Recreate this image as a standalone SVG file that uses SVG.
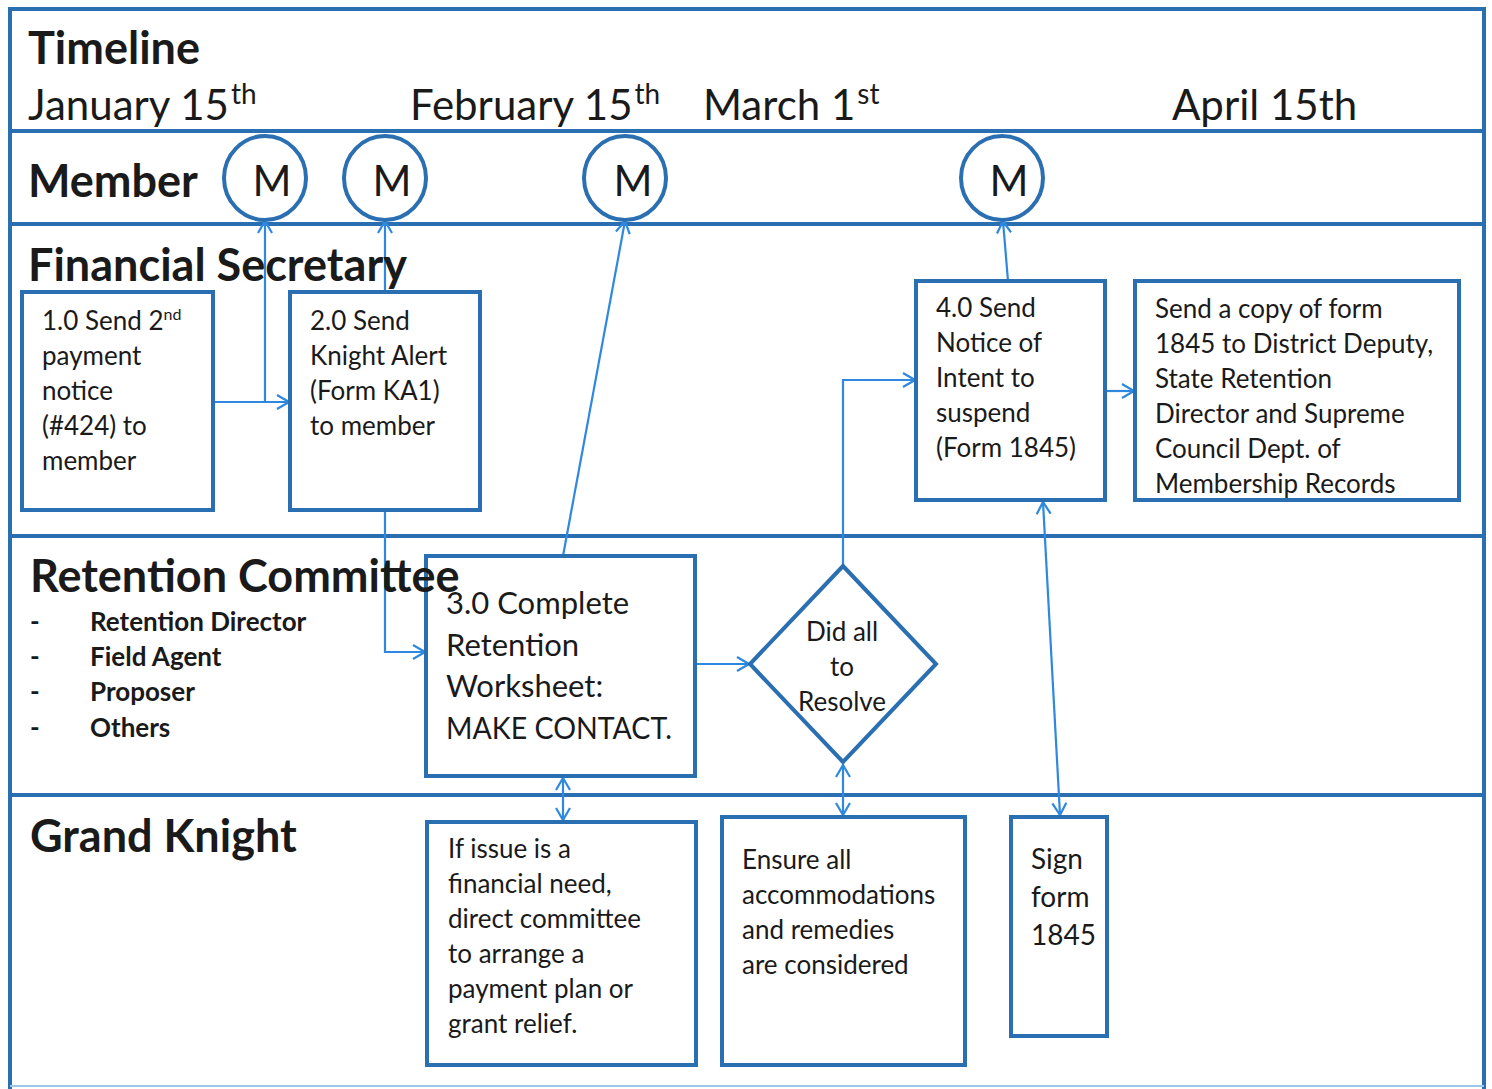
<svg xmlns="http://www.w3.org/2000/svg" width="1492" height="1089" viewBox="0 0 1492 1089">
<style>
text{font-family:Lato,"Open Sans","Liberation Sans",sans-serif;fill:#1a1a1a}
.lane{font-weight:bold;font-size:45px}
.date{font-size:42px}
.t{font-size:26px}
.b{font-size:26px;font-weight:bold}
.box{fill:#fff;stroke:#2b6fb3;stroke-width:4}
.frame{fill:none;stroke:#2b6fb3;stroke-width:4}
.circ{fill:#fff;stroke:#2b6fb3;stroke-width:4}
.c{fill:none;stroke:#2e88e0;stroke-width:2.2}
.m{font-size:42px;text-anchor:middle}
</style>
<defs>
<marker id="ah" viewBox="0 0 14 16" refX="13" refY="8" markerWidth="14" markerHeight="16" markerUnits="userSpaceOnUse" orient="auto">
<path d="M1,1 L13,8 L1,15" fill="none" stroke="#2e88e0" stroke-width="2.2"/>
</marker>
<marker id="as" viewBox="0 0 14 16" refX="1" refY="8" markerWidth="14" markerHeight="16" markerUnits="userSpaceOnUse" orient="auto">
<path d="M13,1 L1,8 L13,15" fill="none" stroke="#2e88e0" stroke-width="2.2"/>
</marker>
</defs>
<rect width="1492" height="1089" fill="#fff"/>
<g id="frame">
<path class="frame" d="M10,1089 V9 H1484 V1089"/>
<line class="frame" x1="10" y1="131" x2="1484" y2="131"/>
<line class="frame" x1="10" y1="224" x2="1484" y2="224"/>
<line class="frame" x1="10" y1="536" x2="1484" y2="536"/>
<line class="frame" x1="10" y1="795" x2="1484" y2="795"/>
<line x1="10" y1="1086" x2="1484" y2="1086" stroke="#9cc6ea" stroke-width="2"/>
</g>
<g id="connectors">
<line class="c" x1="213" y1="402" x2="289" y2="402" marker-end="url(#ah)"/>
<line class="c" x1="265" y1="402" x2="265" y2="221" marker-end="url(#ah)"/>
<line class="c" x1="385" y1="291" x2="385" y2="221" marker-end="url(#ah)"/>
<path class="c" d="M385,510 V652 H425" marker-end="url(#ah)"/>
<line class="c" x1="563" y1="556" x2="625" y2="221" marker-end="url(#ah)"/>
<line class="c" x1="695" y1="664" x2="749" y2="664" marker-end="url(#ah)"/>
<path class="c" d="M843,566 V380 H915" marker-end="url(#ah)"/>
<line class="c" x1="1008" y1="281" x2="1003" y2="221" marker-end="url(#ah)"/>
<line class="c" x1="1105" y1="391" x2="1134" y2="391" marker-end="url(#ah)"/>
<line class="c" x1="1043" y1="502" x2="1060" y2="815" marker-start="url(#as)" marker-end="url(#ah)"/>
<line class="c" x1="563" y1="778" x2="563" y2="820" marker-start="url(#as)" marker-end="url(#ah)"/>
<line class="c" x1="843" y1="765" x2="843" y2="815" marker-start="url(#as)" marker-end="url(#ah)"/>
</g>
<g id="m1"><ellipse class="circ" cx="265" cy="178" rx="41" ry="42"/><text class="m" x="272" y="196">M</text></g>
<g id="m2"><ellipse class="circ" cx="385" cy="178" rx="41" ry="42"/><text class="m" x="392" y="196">M</text></g>
<g id="m3"><ellipse class="circ" cx="625" cy="178" rx="41" ry="42"/><text class="m" x="633" y="196">M</text></g>
<g id="m4"><ellipse class="circ" cx="1002" cy="178" rx="41" ry="42"/><text class="m" x="1009" y="196">M</text></g>
<g id="n1">
<rect class="box" x="22" y="292" width="191" height="218"/>
<text class="t" x="42" y="330">1.0 Send 2<tspan dy="-10" font-size="16">nd</tspan></text>
<text class="t" x="42" y="365">payment</text>
<text class="t" x="42" y="400">notice</text>
<text class="t" x="42" y="435">(#424) to</text>
<text class="t" x="42" y="470">member</text>
</g>
<g id="n2">
<rect class="box" x="290" y="292" width="190" height="218"/>
<text class="t" x="310" y="330">2.0 Send</text>
<text class="t" x="310" y="365">Knight Alert</text>
<text class="t" x="310" y="400">(Form KA1)</text>
<text class="t" x="310" y="435">to member</text>
</g>
<g id="n4">
<rect class="box" x="916" y="281" width="189" height="219"/>
<text class="t" x="936" y="317">4.0 Send</text>
<text class="t" x="936" y="352">Notice of</text>
<text class="t" x="936" y="387">Intent to</text>
<text class="t" x="936" y="422">suspend</text>
<text class="t" x="936" y="457">(Form 1845)</text>
</g>
<g id="n5">
<rect class="box" x="1135" y="281" width="324" height="219"/>
<text class="t" x="1155" y="318">Send a copy of form</text>
<text class="t" x="1155" y="353">1845 to District Deputy,</text>
<text class="t" x="1155" y="388">State Retention</text>
<text class="t" x="1155" y="423">Director and Supreme</text>
<text class="t" x="1155" y="458">Council Dept. of</text>
<text class="t" x="1155" y="493">Membership Records</text>
</g>
<g id="n3">
<rect class="box" x="426" y="556" width="269" height="220"/>
<text x="446" y="614" font-size="31">3.0 Complete</text>
<text x="446" y="656" font-size="31">Retention</text>
<text x="446" y="697" font-size="31">Worksheet:</text>
<text x="446" y="739" font-size="31" textLength="226" lengthAdjust="spacingAndGlyphs">MAKE CONTACT.</text>
</g>
<g id="d1">
<polygon class="box" points="843,566 936,664 843,762 750,664"/>
<text class="t" x="842" y="641" text-anchor="middle">Did all</text>
<text class="t" x="842" y="676" text-anchor="middle">to</text>
<text class="t" x="842" y="711" text-anchor="middle">Resolve</text>
</g>
<g id="g1">
<rect class="box" x="427" y="822" width="269" height="243"/>
<text class="t" x="448" y="858">If issue is a</text>
<text class="t" x="448" y="893">financial need,</text>
<text class="t" x="448" y="928">direct committee</text>
<text class="t" x="448" y="963">to arrange a</text>
<text class="t" x="448" y="998">payment plan or</text>
<text class="t" x="448" y="1033">grant relief.</text>
</g>
<g id="g2">
<rect class="box" x="722" y="817" width="243" height="248"/>
<text class="t" x="742" y="869">Ensure all</text>
<text class="t" x="742" y="904">accommodations</text>
<text class="t" x="742" y="939">and remedies</text>
<text class="t" x="742" y="974">are considered</text>
</g>
<g id="g3">
<rect class="box" x="1011" y="817" width="96" height="219"/>
<text x="1031" y="869" font-size="28">Sign</text>
<text x="1031" y="907" font-size="28">form</text>
<text x="1031" y="945" font-size="28">1845</text>
</g>
<g id="lanes">
<text class="lane" x="28" y="64">Timeline</text>
<text class="date" x="28" y="120">January 15<tspan dy="-16" font-size="28" dx="2">th</tspan></text>
<text class="date" x="410" y="120">February 15<tspan dy="-16" font-size="28" dx="2">th</tspan></text>
<text class="date" x="703" y="120">March 1<tspan dy="-16" font-size="28" dx="2">st</tspan></text>
<text class="date" x="1172" y="120">April 15th</text>
<text class="lane" x="28" y="197">Member</text>
<text class="lane" x="28" y="281">Financial Secretary</text>
<text class="lane" x="30" y="592">Retention Committee</text>
<text class="b" x="30" y="631">-</text><text class="b" x="90" y="631">Retention Director</text>
<text class="b" x="30" y="666">-</text><text class="b" x="90" y="666">Field Agent</text>
<text class="b" x="30" y="701">-</text><text class="b" x="90" y="701">Proposer</text>
<text class="b" x="30" y="737">-</text><text class="b" x="90" y="737">Others</text>
<text class="lane" x="30" y="852">Grand Knight</text>
</g>
</svg>
